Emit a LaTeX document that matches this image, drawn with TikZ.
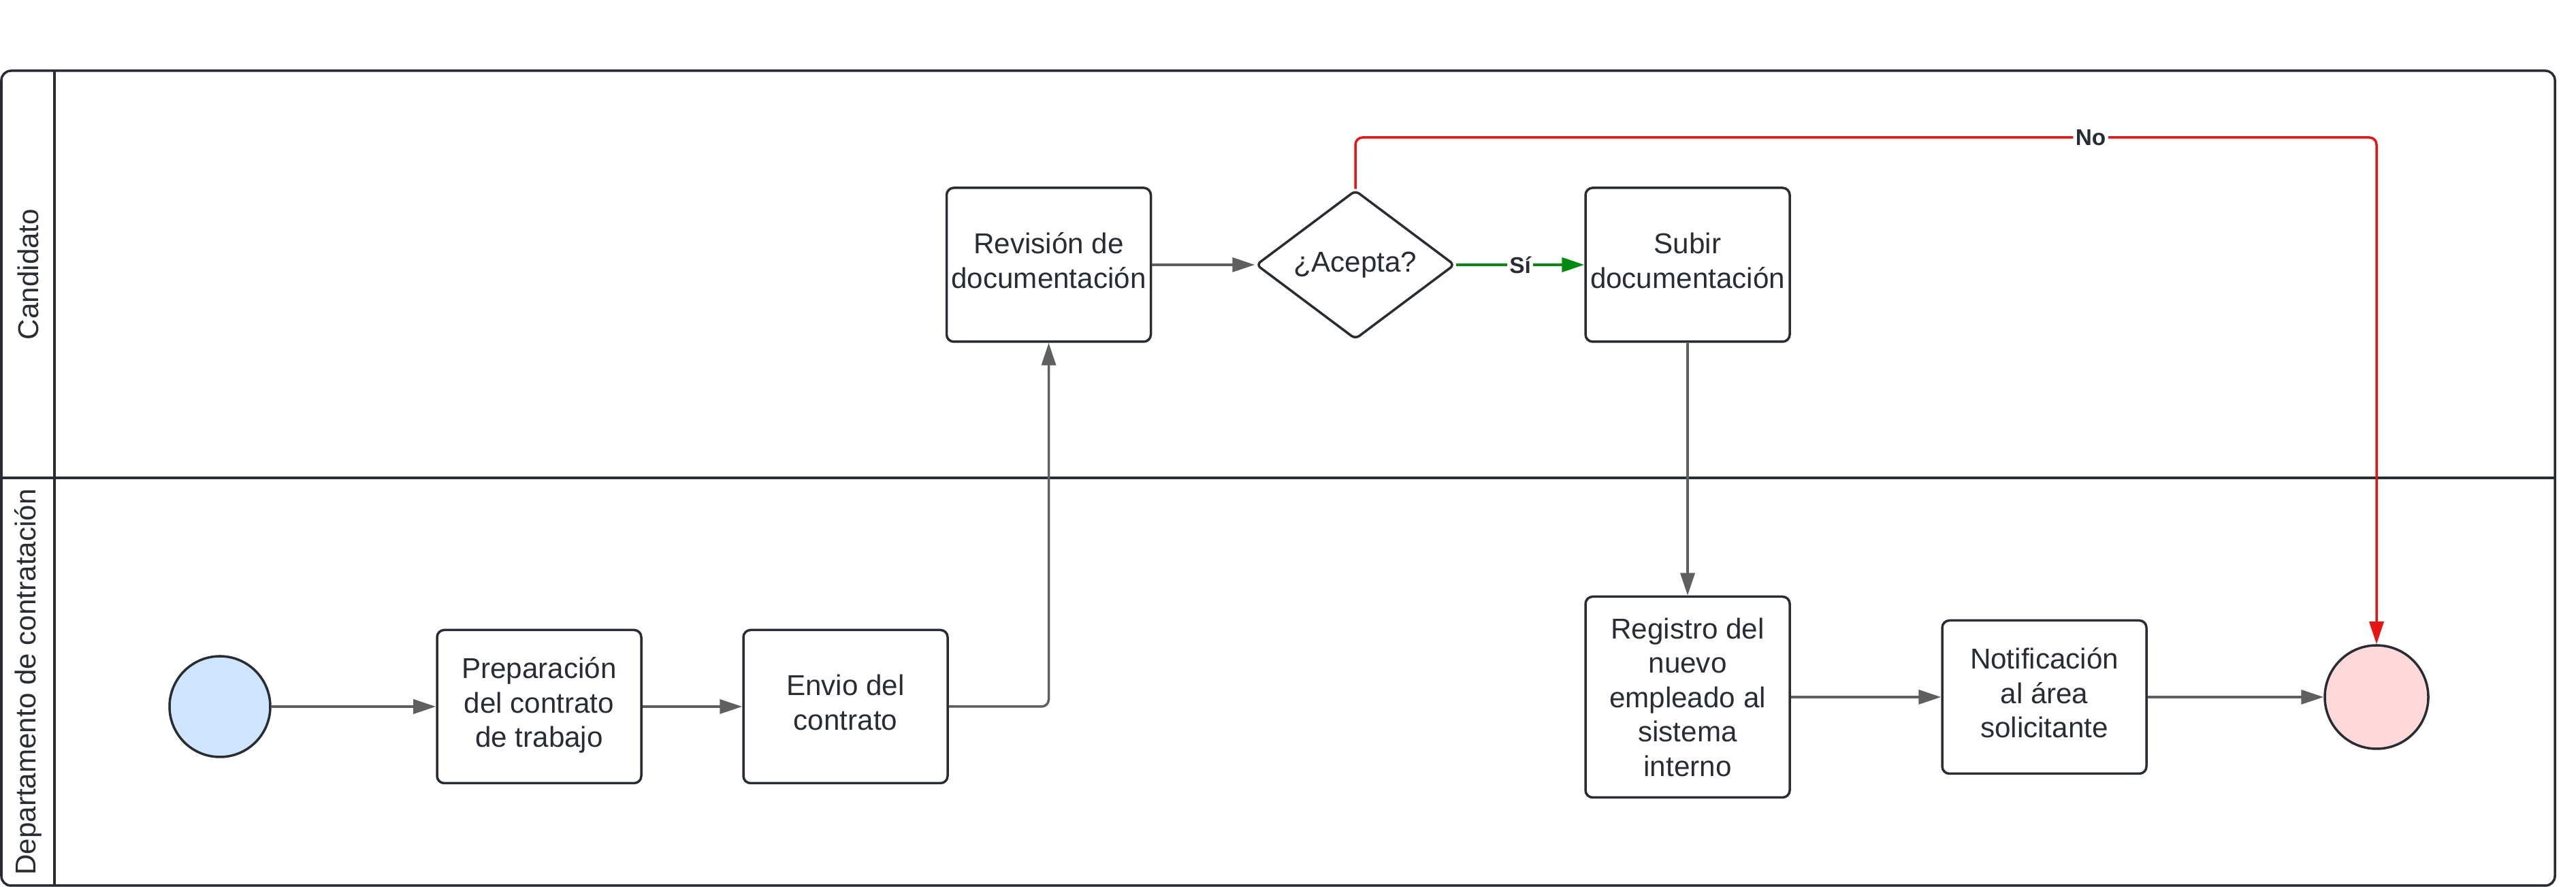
\documentclass[tikz,border=0pt]{standalone}
\usepackage{fontspec}
\setmainfont{Liberation Sans}
\usepackage{xcolor}
\usetikzlibrary{shapes.geometric,arrows.meta,positioning}
\definecolor{ink}{HTML}{282C33}
\definecolor{flowgray}{HTML}{5F5F5F}
\definecolor{nored}{HTML}{E81313}
\definecolor{sigreen}{HTML}{008A0E}
\definecolor{startfill}{HTML}{CFE4FF}
\definecolor{endfill}{HTML}{FFD9D9}
\tikzstyle{task} = [rectangle,draw=ink,line width=1pt,rounded corners=3pt,minimum width=3cm,inner xsep=0.05cm,text depth=0.13cm,align=center,font=\fontsize{12}{14.4}\selectfont,text=ink]
\tikzstyle{event} = [circle,draw=ink,line width=1pt,inner sep=0pt]
\tikzstyle{flow} = [line width=1pt,->,>={Triangle[length=3.3mm,width=2.1mm]},flowgray]
\tikzstyle{lbl} = [fill=white,inner sep=1pt,font=\fontsize{9.5}{11}\selectfont\bfseries,text=ink]

\begin{document}
\begin{tikzpicture}
      \useasboundingbox (0,0) rectangle (37.84,13.03);
      % pool and lanes
      \draw [ink,line width=1pt,rounded corners=4pt] (0.02,0.02) rectangle (37.53,11.99);
      \draw [ink,line width=1pt] (0.80,0.02) -- (0.80,11.99);
      \draw [ink,line width=1pt] (0.02,6.01) -- (37.53,6.01);
      \node (candidato) [rotate=90,text=ink,font=\fontsize{12}{14.4}\selectfont] at (0.41,9.00) {Candidato};
      \node (depto) [rotate=90,text=ink,font=\fontsize{12}{14.4}\selectfont] at (0.41,3.01) {Departamento de contratación};
      % Departamento de contratacion
      \node (inicio) [event,fill=startfill,minimum size=1.48cm] at (3.23,2.65) {};
      \node (prep) [task,minimum height=2.25cm] at (7.92,2.65) {Preparación\\del contrato\\de trabajo};
      \node (envio) [task,minimum height=2.25cm] at (12.42,2.65) {Envio del\\contrato};
      \node (registro) [task,minimum height=2.95cm,text depth=0pt] at (24.79,2.79) {Registro del\\nuevo\\empleado al\\sistema\\interno};
      \node (notif) [task,minimum height=2.25cm] at (30.03,2.79) {Notificación\\al área\\solicitante};
      \node (fin) [event,fill=endfill,minimum size=1.52cm] at (34.91,2.79) {};
      % Candidato
      \node (revision) [task,minimum height=2.26cm] at (15.405,9.14) {Revisión de\\documentación};
      \node (acepta) [diamond,aspect=1.33,draw=ink,line width=1pt,rounded corners=2pt,inner sep=0pt,minimum width=2.92cm,minimum height=2.19cm,text=ink,font=\fontsize{12}{14.4}\selectfont] at (19.91,9.14) {¿Acepta?};
      \node (subir) [task,minimum height=2.26cm] at (24.79,9.14) {Subir\\documentación};
      \coordinate (nocorner) at (19.91,11.01);
      % connectors
      \draw [flow] (inicio) -- (prep);
      \draw [flow] (prep) -- (envio);
      \draw [flow,rounded corners=3pt] (envio) -| (revision);
      \draw [flow] (revision) -- (acepta);
      \draw [flow,sigreen,line width=1.2pt] (acepta) -- node[lbl] {Sí} (subir);
      \draw [flow] (subir) -- (registro);
      \draw [flow] (registro) -- (notif);
      \draw [flow] (notif) -- (fin);
      \draw [flow,nored,rounded corners=3pt] (acepta.north) -- (nocorner) -| node[lbl,pos=0.36] {No} (fin.north);
    \end{tikzpicture}
\end{document}
